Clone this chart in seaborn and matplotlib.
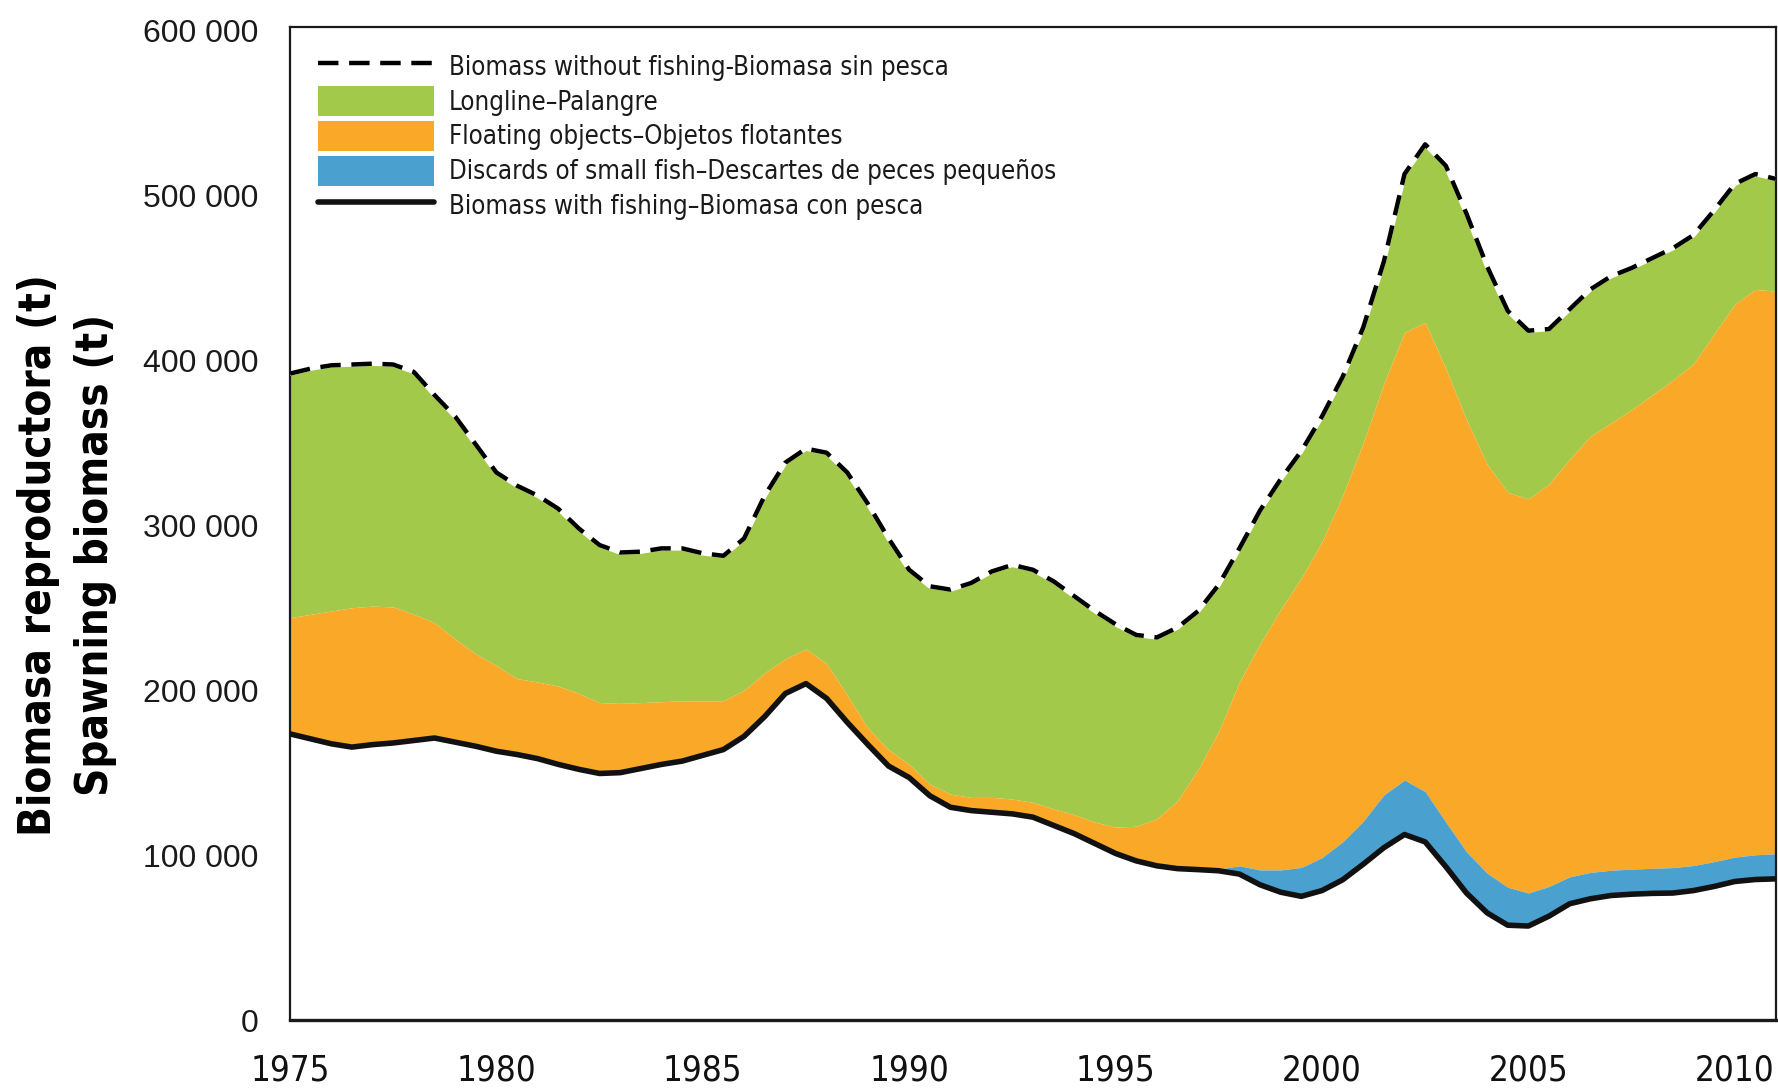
import os
import numpy as np
import pandas as pd
import matplotlib
matplotlib.use("Agg")
import matplotlib.pyplot as plt
from matplotlib import font_manager
from matplotlib.font_manager import FontProperties
from matplotlib.lines import Line2D
from matplotlib.patches import Patch
import seaborn as sns

# Spawning biomass (thousand tonnes), half-year steps 1975-2011
years = np.arange(1975.0, 2011.01, 0.5)

biomass_without_fishing = [
    392, 395, 397, 397.5, 398, 397.5, 393, 379, 366, 349,
    332, 324, 318, 310, 298, 288, 283.5, 284, 286, 286,
    283, 281.5, 292, 318, 338, 346.5, 344, 332, 313, 292,
    273, 263, 261, 265, 272, 276, 273, 266, 257, 248,
    240, 233.5, 232, 238, 248, 264, 286, 309, 328, 345,
    366, 390, 420, 460, 513, 531, 518, 489, 457, 430,
    418, 419, 431, 443, 451, 456, 462, 468, 476, 491,
    507, 513, 510,
]

# Lower edge of the longline band (upper edge of the floating-object band)
longline_lower = [
    244, 246, 248, 250, 251, 250.5, 246, 241, 231, 222,
    215, 207, 205, 202.5, 198, 192.5, 192, 192.5, 193, 193.6,
    193.5, 193.6, 200, 210.5, 219, 225, 216, 197, 177, 164,
    155, 143, 137, 135, 135, 134, 132, 128, 124.5, 120,
    117, 117.5, 122, 133, 152, 175, 205, 228, 249, 268,
    290, 318, 350, 386, 417, 423, 395, 364, 337, 320,
    316, 325, 340, 354, 362, 370, 379, 388, 398, 416,
    434, 443, 442,
]

biomass_with_fishing = [
    173.5, 170.5, 167.5, 165.5, 167, 168, 169.5, 171, 168.5, 166,
    163, 161, 158.5, 155, 152, 149.5, 150, 152.5, 155, 157,
    160.5, 164, 172, 184, 198, 204, 195, 180.5, 167, 154,
    147, 136, 129, 127, 126, 125, 123, 118, 113, 107,
    101, 96.5, 93.5, 91.8, 91.2, 90.5, 88.5, 82, 77.5, 75,
    78.5, 85, 94.5, 104.5, 112.5, 108, 93, 77, 65, 57.5,
    57, 63, 70.5, 73.5, 75.5, 76.3, 76.8, 77, 78.5, 81,
    84, 85.2, 85.6,
]

# Biomass lost to discards of small fish (thousand tonnes)
discards = [
    0, 0, 0, 0, 0, 0, 0, 0, 0, 0,
    0, 0, 0, 0, 0, 0, 0, 0, 0, 0,
    0, 0, 0, 0, 0, 0, 0, 0, 0, 0,
    0, 0, 0, 0, 0, 0, 0, 0, 0, 0,
    0, 0, 0, 0, 0, 1, 5, 9, 13.5, 17.5,
    20, 23, 26, 32, 33, 30.5, 27, 25, 24, 23,
    20, 18, 16.3, 16, 15.3, 15.2, 15.2, 15.4, 15.2, 15,
    14.8, 15, 15.2,
]

legend_labels = [
    "Biomass without fishing-Biomasa sin pesca",
    "Longline\u2013Palangre",
    "Floating objects\u2013Objetos flotantes",
    "Discards of small fish\u2013Descartes de peces peque\u00f1os",
    "Biomass with fishing\u2013Biomasa con pesca",
]
ylabel_lines = ["Biomasa reproductora (t)", "Spawning biomass (t)"]

GREEN = "#A3C94B"
ORANGE = "#F9A828"
BLUE = "#4AA0CE"


def narrow_font(bold):
    """Path of a condensed sans face, or None."""
    files = [f.fname for f in font_manager.fontManager.ttflist]
    if bold:
        wanted = ["LiberationSansNarrow-Bold.ttf", "DejaVuSansCondensed-Bold.ttf"]
    else:
        wanted = ["LiberationSansNarrow-Regular.ttf", "DejaVuSansCondensed.ttf"]
    for w in wanted:
        for fn in files:
            if os.path.basename(fn) == w:
                return fn
    return None


reg_file = narrow_font(False)
bold_file = narrow_font(True)

df = pd.DataFrame({
    "year": years,
    "no_fishing": np.array(biomass_without_fishing) * 1000,
    "longline_lower": np.array(longline_lower) * 1000,
    "with_fishing": np.array(biomass_with_fishing) * 1000,
    "discards": np.array(discards) * 1000,
})
df["floating_lower"] = df["with_fishing"] + df["discards"]

sns.set_style("white")
plt.rcParams["font.family"] = ["Liberation Sans", "DejaVu Sans"]

fig = plt.figure(figsize=(17.78, 10.90), dpi=100)
ax = fig.add_axes([0.1631, 0.0642, 0.8358, 0.9108])

ax.fill_between(df["year"], df["longline_lower"], df["no_fishing"], color=GREEN, lw=0, zorder=1)
ax.fill_between(df["year"], df["floating_lower"], df["longline_lower"], color=ORANGE, lw=0, zorder=1)
ax.fill_between(df["year"], df["with_fishing"], df["floating_lower"], color=BLUE, lw=0, zorder=1)

# Unfished biomass: white under-stroke with black dashes on top
sns.lineplot(data=df, x="year", y="no_fishing", ax=ax, color="white", lw=3.2, zorder=3)
sns.lineplot(data=df, x="year", y="no_fishing", ax=ax, color="black", lw=3.2, zorder=4)
ax.lines[-1].set_dashes((4.6, 2.4))
sns.lineplot(data=df, x="year", y="with_fishing", ax=ax, color="#111111", lw=4.0, zorder=4)
for ln in ax.lines:
    ln.set_solid_joinstyle("round")
    ln.set_dash_joinstyle("round")

ax.set_xlim(1975, 2011)
ax.set_ylim(0, 602000)

if reg_file:
    xfont = FontProperties(fname=reg_file, size=25)
    lfont = FontProperties(fname=reg_file, size=18.5)
else:
    xfont = FontProperties(family="Liberation Sans", size=24)
    lfont = FontProperties(family="Liberation Sans", size=18)
if bold_file:
    yfont = FontProperties(fname=bold_file, size=31.5)
else:
    yfont = FontProperties(family="Liberation Sans", weight="bold", size=31)

xt = np.arange(1975, 2011.01, 2.5)
ax.set_xticks(xt)
ax.set_xticklabels([str(int(v)) if v % 5 == 0 else "" for v in xt],
                   fontproperties=xfont, color="#111111")
yt = np.arange(0, 600001, 100000)
ax.set_yticks(yt)
ax.set_yticklabels([f"{int(v):,}".replace(",", " ") for v in yt],
                   fontsize=23, color="#1a1a1a")
ax.tick_params(axis="x", direction="out", length=12, width=1.3, pad=12, color="#222222")
ax.tick_params(axis="y", direction="out", length=9.5, width=1.3, pad=13, color="#222222")
ax.set_xlabel("")
ax.set_ylabel("")

for side in ["left", "bottom", "top", "right"]:
    ax.spines[side].set_visible(True)
    ax.spines[side].set_color("#1a1a1a")
    ax.spines[side].set_linewidth(1.6)
ax.spines["bottom"].set_linewidth(2.4)

fig.text(0.0378, 0.491, "\n".join(ylabel_lines), rotation=90, ha="center", va="center",
         fontproperties=yfont, color="black", linespacing=1.42, multialignment="center")

handles = [
    Line2D([0], [0], color="black", lw=3.2, dashes=(4.6, 2.4)),
    Patch(facecolor=GREEN, edgecolor="none"),
    Patch(facecolor=ORANGE, edgecolor="none"),
    Patch(facecolor=BLUE, edgecolor="none"),
    Line2D([0], [0], color="#111111", lw=4.0),
]
leg = ax.legend(handles, legend_labels, loc="upper left", bbox_to_anchor=(0.0188, 0.976),
                frameon=False, borderpad=0, borderaxespad=0,
                handlelength=4.5, handleheight=1.42, handletextpad=0.6,
                labelspacing=0.19, prop=lfont)
for t in leg.get_texts():
    t.set_color("#1a1a1a")

fig.savefig("out.png", dpi=100, facecolor="white")
